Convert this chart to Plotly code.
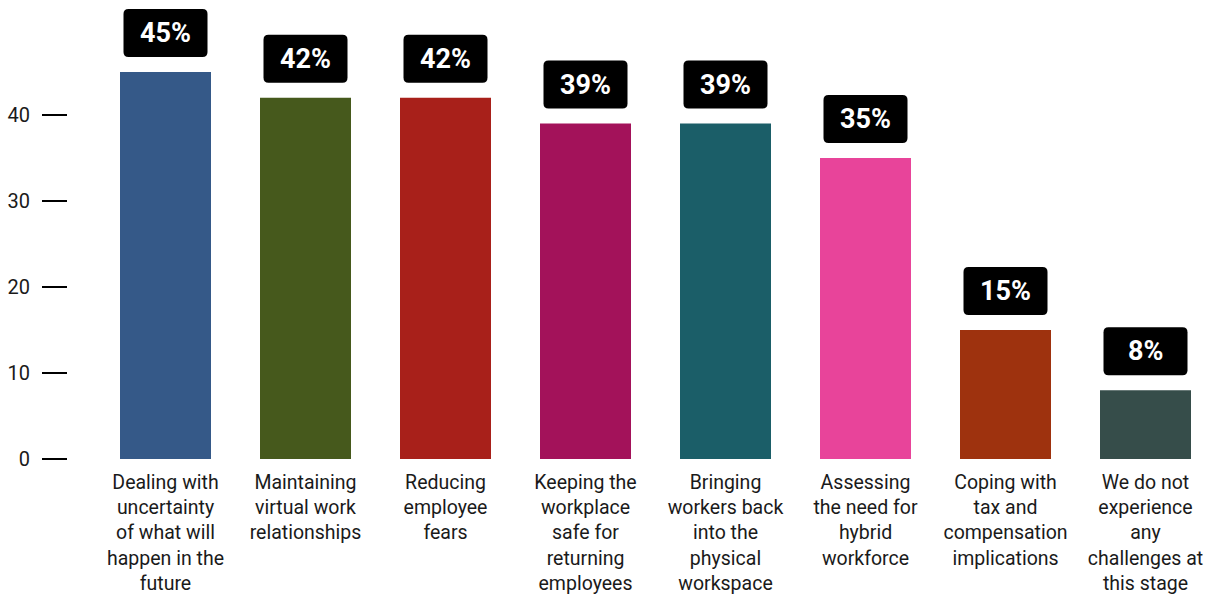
import plotly.graph_objects as go

categories = [
    "Dealing with<br>uncertainty<br>of what will<br>happen in the<br>future",
    "Maintaining<br>virtual work<br>relationships",
    "Reducing<br>employee<br>fears",
    "Keeping the<br>workplace<br>safe for<br>returning<br>employees",
    "Bringing<br>workers back<br>into the<br>physical<br>workspace",
    "Assessing<br>the need for<br>hybrid<br>workforce",
    "Coping with<br>tax and<br>compensation<br>implications",
    "We do not<br>experience<br>any<br>challenges at<br>this stage",
]
values = [45, 42, 42, 39, 39, 35, 15, 8]
colors = ["#355988", "#46591c", "#a8201a", "#a3125a",
          "#1b5e68", "#e8449a", "#9e320e", "#364d4a"]
y_ticks = [0, 10, 20, 30, 40]

positions = list(range(len(categories)))

fig = go.Figure(
    go.Bar(
        x=positions,
        y=values,
        marker=dict(color=colors, line=dict(width=0)),
        width=0.65,
        hoverinfo="skip",
    )
)

# rounded badge geometry, in pixels relative to the top of each bar
BW, BH, GAP, R = 42, 48, 15, 5
badge_path = (
    f"M {-BW + R},{GAP} L {BW - R},{GAP} Q {BW},{GAP} {BW},{GAP + R} "
    f"L {BW},{GAP + BH - R} Q {BW},{GAP + BH} {BW - R},{GAP + BH} "
    f"L {-BW + R},{GAP + BH} Q {-BW},{GAP + BH} {-BW},{GAP + BH - R} "
    f"L {-BW},{GAP + R} Q {-BW},{GAP} {-BW + R},{GAP} Z"
)

for i, v in enumerate(values):
    fig.add_shape(
        type="path",
        xref="x", yref="y",
        xsizemode="pixel", ysizemode="pixel",
        xanchor=i, yanchor=v,
        path=badge_path,
        fillcolor="#000000",
        line=dict(width=0),
        layer="above",
    )
    fig.add_annotation(
        x=i, y=v, xref="x", yref="y",
        text=f"<b>{v}%</b>",
        showarrow=False,
        yanchor="middle", yshift=GAP + BH / 2,
        font=dict(family="Roboto", size=27, color="#ffffff"),
    )

fig.update_layout(
    width=1212, height=595,
    margin=dict(l=68, r=0, t=0, b=136),
    paper_bgcolor="#ffffff",
    plot_bgcolor="#ffffff",
    showlegend=False,
    font=dict(family="Roboto", size=20, color="#1a1a1a"),
    xaxis=dict(
        tickmode="array",
        tickvals=positions,
        ticktext=categories,
        range=[-0.6964, 7.475],
        showgrid=False, zeroline=False, showline=False,
        ticks="",
        automargin=False,
        ticklabelstandoff=9,
        tickfont=dict(family="Roboto", size=19.5, color="#1a1a1a"),
    ),
    yaxis=dict(
        range=[0, 53.37],
        tickmode="array",
        tickvals=y_ticks,
        showgrid=False, zeroline=False, showline=False,
        automargin=False,
        ticks="outside", ticklen=25, tickwidth=1.5, tickcolor="#000000",
        ticklabelstandoff=8,
        tickfont=dict(family="Roboto", size=20, color="#1a1a1a"),
    ),
)

fig.write_html("out.html")
